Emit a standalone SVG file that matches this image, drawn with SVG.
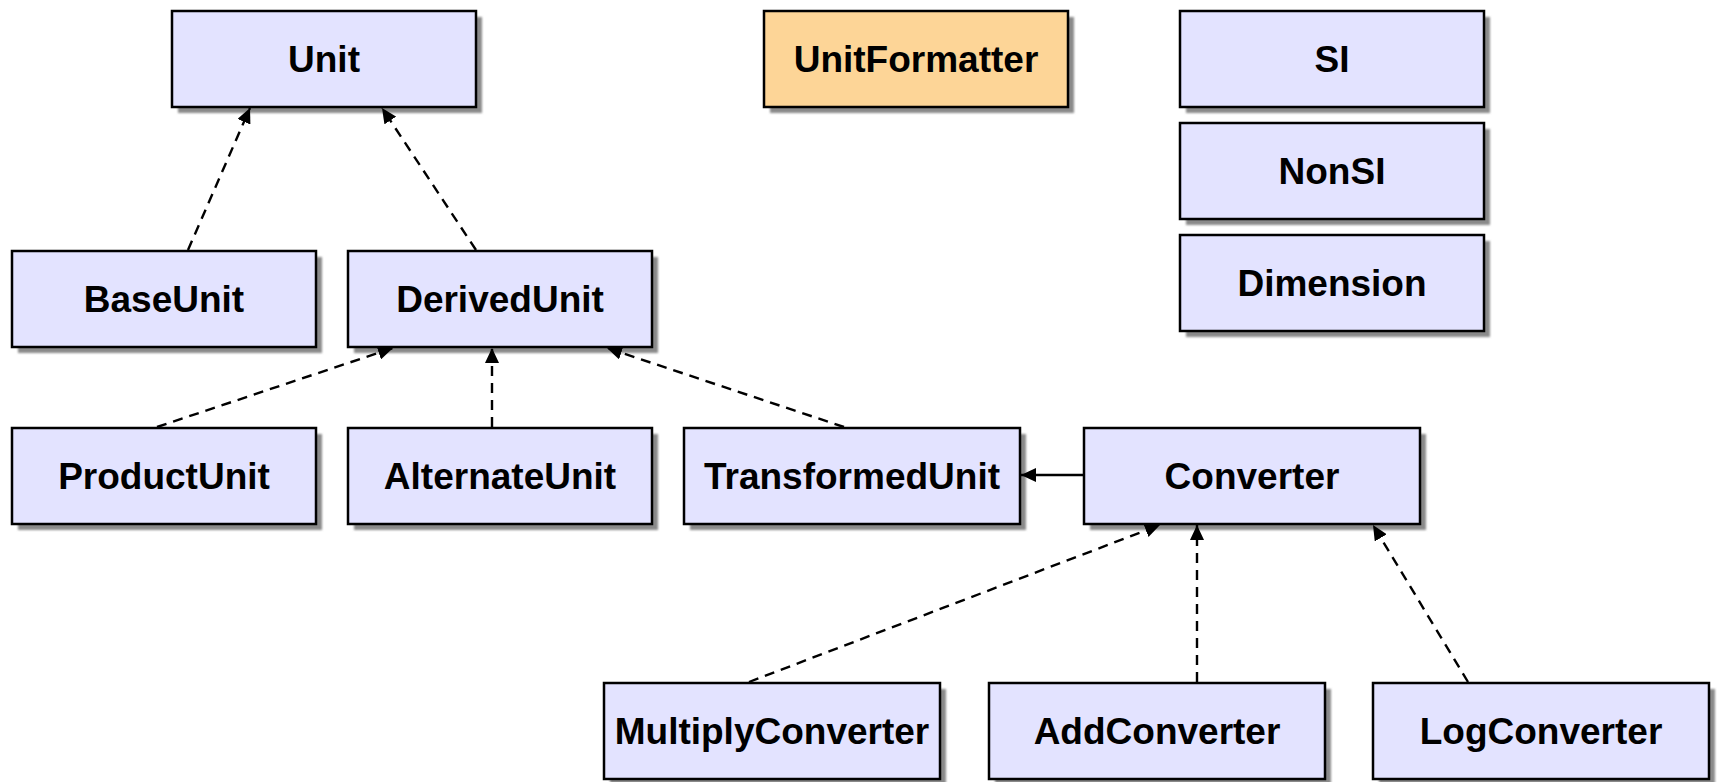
<svg xmlns="http://www.w3.org/2000/svg" width="1719" height="782" viewBox="0 0 1719 782">
<style>
.sh{fill:#8a8a8a}
.box{fill:#e3e3ff;stroke:#000;stroke-width:2.5}
.box.alt{fill:#fdd597}
.lbl{font-family:"Liberation Sans",Arial,sans-serif;font-weight:bold;font-size:37px;text-anchor:middle;fill:#000}
.dep{stroke:#000;stroke-width:2.4;fill:none;stroke-dasharray:10,7;marker-end:url(#ah)}
.assoc{stroke:#000;stroke-width:2.4;fill:none;marker-end:url(#ah)}
</style>
<defs>
<filter id="blur" x="-5%" y="-5%" width="110%" height="110%"><feGaussianBlur stdDeviation="0.8"/></filter>
<marker id="ah" markerUnits="userSpaceOnUse" markerWidth="16" markerHeight="14" refX="15" refY="7" orient="auto" viewBox="0 0 16 14">
<path d="M0,0 L15,7 L0,14 z" fill="#000"/>
</marker>
</defs>
<rect width="1719" height="782" fill="#fff"/>
<g id="node-Unit"><rect class="sh" filter="url(#blur)" x="178" y="17" width="304" height="96"/><rect class="box" x="172" y="11" width="304" height="96"/><text class="lbl" x="324" y="72">Unit</text></g>
<g id="node-UnitFormatter"><rect class="sh" filter="url(#blur)" x="770" y="17" width="304" height="96"/><rect class="box alt" x="764" y="11" width="304" height="96"/><text class="lbl" x="916" y="72">UnitFormatter</text></g>
<g id="node-SI"><rect class="sh" filter="url(#blur)" x="1186" y="17" width="304" height="96"/><rect class="box" x="1180" y="11" width="304" height="96"/><text class="lbl" x="1332" y="72">SI</text></g>
<g id="node-NonSI"><rect class="sh" filter="url(#blur)" x="1186" y="129" width="304" height="96"/><rect class="box" x="1180" y="123" width="304" height="96"/><text class="lbl" x="1332" y="184">NonSI</text></g>
<g id="node-Dimension"><rect class="sh" filter="url(#blur)" x="1186" y="241" width="304" height="96"/><rect class="box" x="1180" y="235" width="304" height="96"/><text class="lbl" x="1332" y="296">Dimension</text></g>
<g id="node-BaseUnit"><rect class="sh" filter="url(#blur)" x="18" y="257" width="304" height="96"/><rect class="box" x="12" y="251" width="304" height="96"/><text class="lbl" x="164" y="312">BaseUnit</text></g>
<g id="node-DerivedUnit"><rect class="sh" filter="url(#blur)" x="354" y="257" width="304" height="96"/><rect class="box" x="348" y="251" width="304" height="96"/><text class="lbl" x="500" y="312">DerivedUnit</text></g>
<g id="node-ProductUnit"><rect class="sh" filter="url(#blur)" x="18" y="434" width="304" height="96"/><rect class="box" x="12" y="428" width="304" height="96"/><text class="lbl" x="164" y="489">ProductUnit</text></g>
<g id="node-AlternateUnit"><rect class="sh" filter="url(#blur)" x="354" y="434" width="304" height="96"/><rect class="box" x="348" y="428" width="304" height="96"/><text class="lbl" x="500" y="489">AlternateUnit</text></g>
<g id="node-TransformedUnit"><rect class="sh" filter="url(#blur)" x="690" y="434" width="336" height="96"/><rect class="box" x="684" y="428" width="336" height="96"/><text class="lbl" x="852" y="489">TransformedUnit</text></g>
<g id="node-Converter"><rect class="sh" filter="url(#blur)" x="1090" y="434" width="336" height="96"/><rect class="box" x="1084" y="428" width="336" height="96"/><text class="lbl" x="1252" y="489">Converter</text></g>
<g id="node-MultiplyConverter"><rect class="sh" filter="url(#blur)" x="610" y="689" width="336" height="96"/><rect class="box" x="604" y="683" width="336" height="96"/><text class="lbl" x="772" y="744">MultiplyConverter</text></g>
<g id="node-AddConverter"><rect class="sh" filter="url(#blur)" x="995" y="689" width="336" height="96"/><rect class="box" x="989" y="683" width="336" height="96"/><text class="lbl" x="1157" y="744">AddConverter</text></g>
<g id="node-LogConverter"><rect class="sh" filter="url(#blur)" x="1379" y="689" width="336" height="96"/><rect class="box" x="1373" y="683" width="336" height="96"/><text class="lbl" x="1541" y="744">LogConverter</text></g>
<g id="connectors">
<line class="dep" x1="188" y1="250" x2="250" y2="108"/>
<line class="dep" x1="476" y1="250" x2="382" y2="108"/>
<line class="dep" x1="157" y1="427" x2="393" y2="348"/>
<line class="dep" x1="492" y1="427" x2="492" y2="348"/>
<line class="dep" x1="844" y1="427" x2="607" y2="348"/>
<line class="assoc" x1="1083" y1="475" x2="1021" y2="475"/>
<line class="dep" x1="749" y1="682" x2="1160" y2="525"/>
<line class="dep" x1="1197" y1="682" x2="1197" y2="525"/>
<line class="dep" x1="1468" y1="682" x2="1373" y2="525"/>
</g>
</svg>
